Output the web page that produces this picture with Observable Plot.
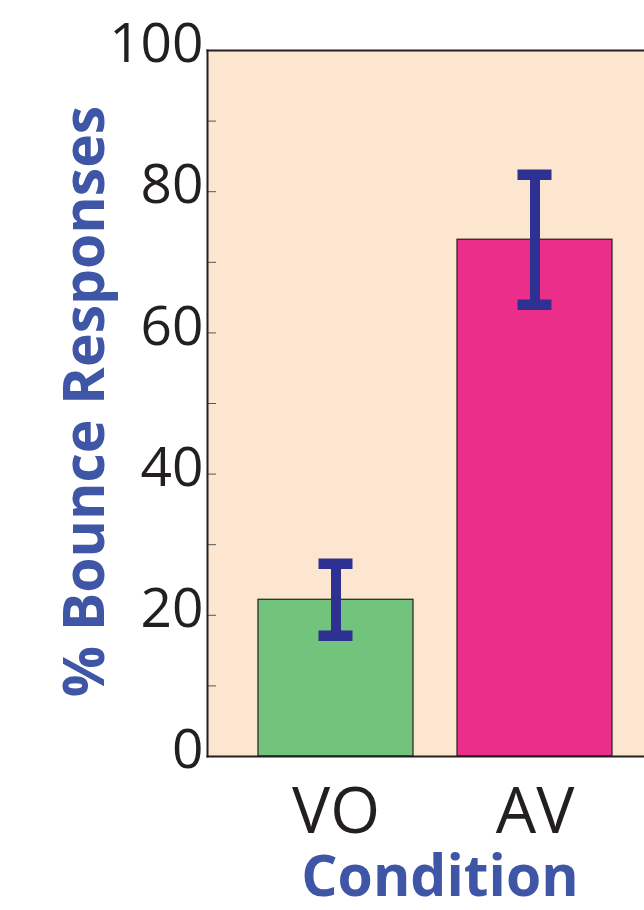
<!DOCTYPE html>
<html>
<head>
<meta charset="utf-8">
<script src="https://cdn.jsdelivr.net/npm/d3@7"></script>
<script src="https://cdn.jsdelivr.net/npm/@observablehq/plot@0.6"></script>
<style>
  html, body { margin: 0; padding: 0; background: #ffffff; overflow: hidden; }
  #chart svg { display: block; }
</style>
</head>
<body>
<div id="chart"></div>
<script>
// Data
const conditions = ["VO", "AV"];
const means = [22.2, 73.2];
const errors = [5.1, 9.2];
const barColors = ["#72c37b", "#eb2e8a"];
const yTickValues = [0, 20, 40, 60, 80, 100];
const yMinorTicks = [0, 10, 20, 30, 40, 50, 60, 70, 80, 90, 100];
const yLabel = "% Bounce Responses";
const xLabel = "Condition";

const data = conditions.map((c, i) => ({cond: c, mean: means[i], err: errors[i]}));

const font = "'Open Sans', 'Noto Sans', sans-serif";
const blue = "#3f56a6";
const ink = "#231f20";
const errColor = "#2e3192";

const chart = Plot.plot({
  width: 644,
  height: 910,
  marginTop: 50,
  marginBottom: 154,
  marginLeft: 207,
  marginRight: 0,
  style: {fontFamily: font, background: "#ffffff", color: ink},
  x: {domain: conditions, range: [213, 657], padding: 0.22, axis: null},
  y: {domain: [0, 100], axis: null},
  color: {domain: conditions, range: barColors},
  marks: [
    Plot.frame({fill: "#fde6cf", stroke: null}),
    // inward minor/major ticks (no labels)
    Plot.axisY(yMinorTicks, {anchor: "left", tickSize: 9, dx: 9, stroke: "#555555", strokeWidth: 1, text: null, label: null}),
    // tick labels
    Plot.axisY(yTickValues, {anchor: "left", tickSize: 0, tickPadding: 4, fontSize: 55, dy: -6, fill: ink, label: null}),
    Plot.barY(data, {x: "cond", y: "mean", fill: "cond", stroke: ink, strokeWidth: 1.2}),
    Plot.ruleX(data, {x: "cond", y1: d => d.mean - d.err, y2: d => d.mean + d.err, stroke: errColor, strokeWidth: 10}),
    Plot.tickY(data, {x: "cond", y: d => d.mean - d.err, stroke: errColor, strokeWidth: 10.5, insetLeft: 60.5, insetRight: 60.5}),
    Plot.tickY(data, {x: "cond", y: d => d.mean + d.err, stroke: errColor, strokeWidth: 10.5, insetLeft: 60.5, insetRight: 60.5}),
    Plot.frame({anchor: "left", stroke: ink, strokeWidth: 2}),
    Plot.frame({anchor: "bottom", stroke: ink, strokeWidth: 2}),
    Plot.frame({anchor: "top", stroke: ink, strokeWidth: 2}),
    Plot.axisX({anchor: "bottom", tickSize: 0, tickPadding: 31, fontSize: 64, fill: ink, label: null}),
    Plot.text([yLabel], {frameAnchor: "left", rotate: -90, dx: -122, dy: -2, fontSize: 57, fontWeight: "bold", fill: blue, textAnchor: "middle", lineAnchor: "middle"}),
    Plot.text([xLabel], {frameAnchor: "bottom", dx: 14, dy: 121, fontSize: 57, fontWeight: "bold", fill: blue, textAnchor: "middle", lineAnchor: "middle"})
  ]
});

document.getElementById("chart").appendChild(chart);
</script>
</body>
</html>
